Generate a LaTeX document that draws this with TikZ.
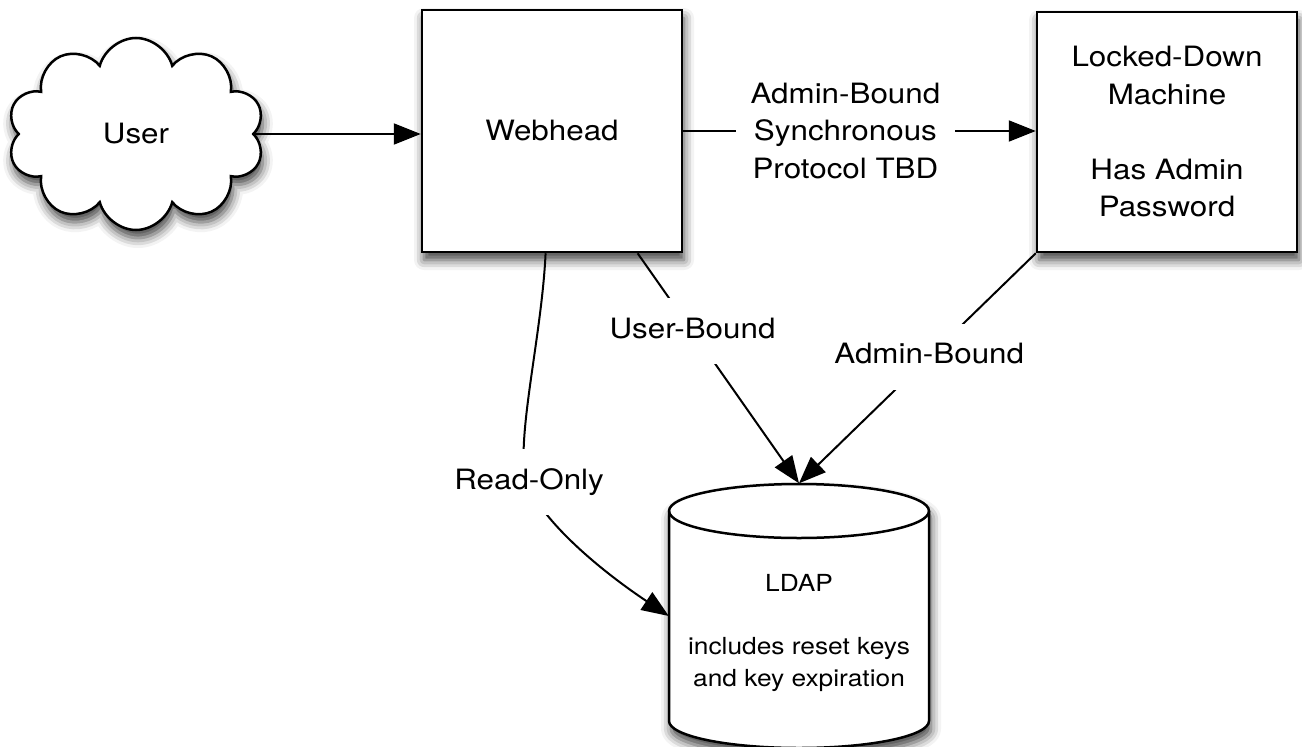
\documentclass[tikz,border=0pt]{standalone}
\usepackage{fontspec}
\setmainfont{TeX Gyre Heros}[FakeStretch=1.12]
\usetikzlibrary{shapes.symbols,shadows.blur,arrows.meta,calc}
\newcommand\fbig{\fontsize{28}{37.5}\selectfont}
\newcommand\fsmall{\fontsize{23.5}{31.7}\selectfont}
\begin{document}
\begin{tikzpicture}[x=1pt,y=-1pt,
  shad/.style={blur shadow={shadow xshift=2pt,shadow yshift=-8pt,shadow blur radius=10pt,shadow opacity=75}},
  box/.style={draw,line width=2.5pt,fill=white,shad,minimum width=260pt,font=\fbig,inner sep=0pt},
  conn/.style={line width=2pt,draw=black,-{Triangle[length=27pt,width=21pt,fill=black]}},
  lbl/.style={fill=white,inner xsep=15pt,inner ysep=20pt,text height=20pt,text depth=6pt,font=\fbig},
  lblm/.style={fill=white,inner xsep=15pt,inner ysep=4pt,align=center,font=\fbig}]
\useasboundingbox (0,0) rectangle (1302,747);
% nodes
\node[cloud,cloud puffs=10,cloud puff arc=150,draw,line width=2.5pt,fill=white,shad,
      minimum width=257pt,minimum height=192pt,font=\fbig] (user) at (136,134) {User};
\node[box,minimum height=242pt] (web) at (552,131) {Webhead};
\node[box,minimum height=240pt,align=center] (lock) at (1167,132)
  {Locked-Down\\Machine\\[37.5pt]Has Admin\\Password};
% cylinder
\draw[line width=2.5pt,fill=white,shad] (669,511) -- (669,721)
  arc[start angle=180,end angle=0,x radius=130,y radius=27] -- (929,511)
  arc[start angle=0,end angle=-180,x radius=130,y radius=27] -- cycle;
\draw[line width=2.5pt] (669,511) arc[start angle=180,end angle=0,x radius=130,y radius=27];
\node[minimum width=260pt,minimum height=265pt,inner sep=0pt] (ldap) at (799,616) {};
\node[font=\fsmall,align=center] (ldaptxt) at (799,633)
  {LDAP\\[31.7pt]includes reset keys\\and key expiration};
% connectors
\draw[conn] (user.east) -- (user.east -| web.west);
\draw[conn] (web.east) -- (web.east -| lock.west)
  node[lblm,pos=0.46] {Admin-Bound\\Synchronous\\Protocol TBD};
\draw[conn] (web.-55) -- (ldap.north) node[lbl,pos=0.34] {User-Bound};
\draw[conn] (lock.south west) -- (ldap.north) node[lbl,pos=0.45] {Admin-Bound};
\coordinate (roc) at (524,470);
\draw[conn] (web.-93) .. controls (542,330) and (520,420) .. (roc)
  .. controls (527,505) and (585,560) .. (ldap.west);
\node[lbl] (ro) at (529,482) {Read-Only};
\end{tikzpicture}
\end{document}
